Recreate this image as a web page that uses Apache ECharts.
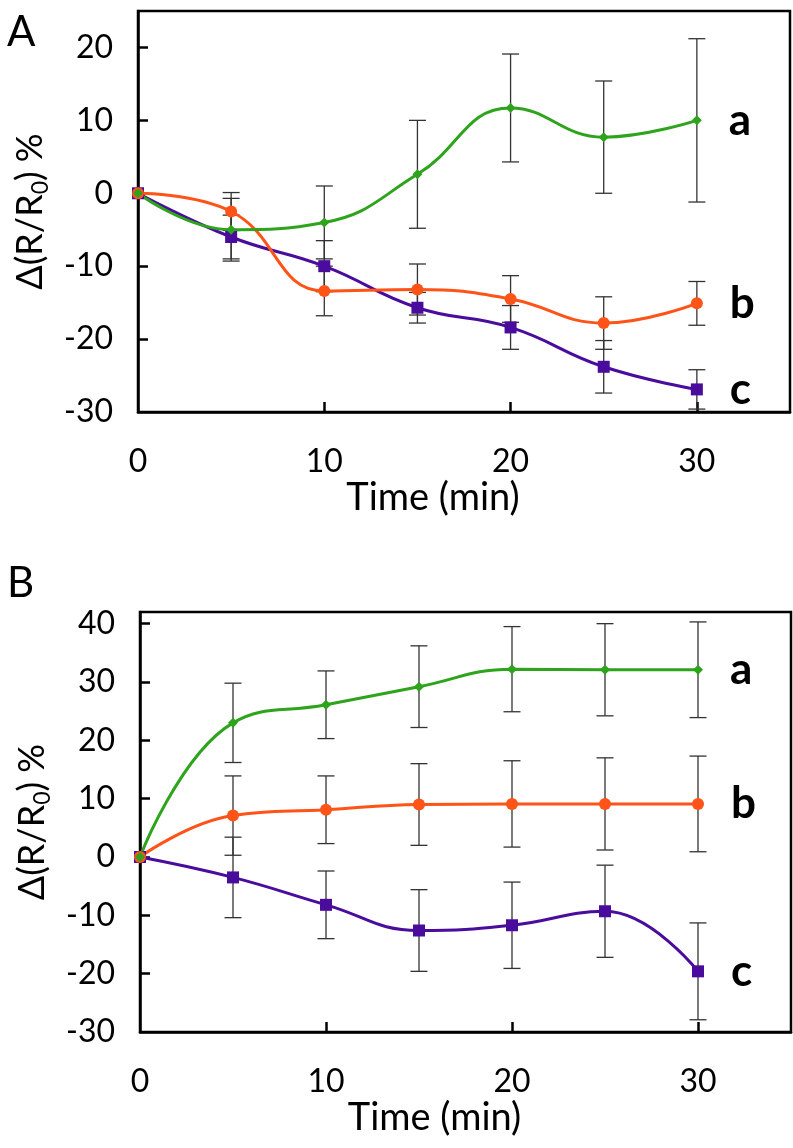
<!DOCTYPE html>
<html><head><meta charset="utf-8">
<script src="https://cdn.jsdelivr.net/npm/echarts@6/dist/echarts.min.js"></script>
<style>html,body{margin:0;padding:0;background:#fff}#c{width:793px;height:1148px}</style>
</head><body><div id="c"></div>
<script>
// ---- data ----
const times = [0, 5, 10, 15, 20, 25, 30];
const seriesNames = ['a', 'b', 'c'];
// Panel A
const A_a = [0, -5.0, -4.0, 2.6, 11.7, 7.7, 10.0];
const A_a_err = [0, 4.3, 5.0, 7.4, 7.4, 7.7, 11.2];
const A_b = [0, -2.5, -13.4, -13.2, -14.5, -17.8, -15.1];
const A_b_err = [0, 2.6, 3.4, 3.5, 3.2, 3.6, 3.0];
const A_c = [0, -6.0, -10.0, -15.7, -18.4, -23.8, -26.9];
const A_c_err = [0, 3.0, 3.5, 2.1, 3.0, 3.6, 2.7];
// Panel B
const B_a = [0, 23.0, 26.1, 29.2, 32.2, 32.1, 32.1];
const B_a_err = [0, 6.8, 5.8, 7.0, 7.3, 7.9, 8.2];
const B_b = [0, 7.1, 8.1, 9.0, 9.1, 9.1, 9.1];
const B_b_err = [0, 6.8, 5.8, 7.0, 7.4, 7.9, 8.2];
const B_c = [0, -3.5, -8.2, -12.6, -11.7, -9.3, -19.6];
const B_c_err = [0, 6.9, 5.8, 7.0, 7.4, 7.9, 8.3];
// ticks
const xTickLabels = [0, 10, 20, 30];
const A_yTickLabels = [-30, -20, -10, 0, 10, 20];
const B_yTickLabels = [-30, -20, -10, 0, 10, 20, 30, 40];

// ---- styling ----
const FONT = 'Lato';
const colors = ['#2ea31c', '#ff5318', '#4a0c9c'];
const symbols = ['diamond', 'circle', 'rect'];
const symSizes = [10, 12, 12];

function lineSeries(vals, idx, panel) {
  const data = times.map((t, i) => {
    const item = { value: [t, vals[i]] };
    if (i === times.length - 1) {
      item.label = {
        show: true, position: 'right', distance: 27,
        formatter: seriesNames[idx], fontFamily: FONT, fontSize: 44,
        fontWeight: 'bold', color: '#000'
      };
    }
    return item;
  });
  return {
    type: 'line', xAxisIndex: panel, yAxisIndex: panel, data,
    smooth: 0.45, symbol: symbols[idx], symbolSize: symSizes[idx],
    showAllSymbol: true, z: 3,
    lineStyle: { color: colors[idx], width: 3 },
    itemStyle: { color: colors[idx] },
    label: { show: false }
  };
}
function errSeries(vals, errs, panel) {
  const data = times.map((t, i) => [t, vals[i] - errs[i], vals[i] + errs[i]])
    .filter((d, i) => errs[i] > 0);
  return {
    type: 'custom', xAxisIndex: panel, yAxisIndex: panel, z: 2,
    encode: { x: 0, y: [1, 2] }, data,
    renderItem: function (params, api) {
      const x = api.value(0), lo = api.value(1), hi = api.value(2);
      const p1 = api.coord([x, hi]), p2 = api.coord([x, lo]);
      const w = 8.5;
      const st = { stroke: '#333', lineWidth: 1.3 };
      return { type: 'group', children: [
        { type: 'line', shape: { x1: p1[0], y1: p1[1], x2: p2[0], y2: p2[1] }, style: st },
        { type: 'line', shape: { x1: p1[0] - w, y1: p1[1], x2: p1[0] + w, y2: p1[1] }, style: st },
        { type: 'line', shape: { x1: p2[0] - w, y1: p2[1], x2: p2[0] + w, y2: p2[1] }, style: st }
      ]};
    }
  };
}
function xAxis(gi) {
  return {
    type: 'value', gridIndex: gi, min: 0, max: 35,
    name: 'Time (min)', nameLocation: 'middle', nameGap: 66,
    nameTextStyle: { fontFamily: FONT, fontSize: 38, color: '#000', padding: [0, 62, 0, 0] },
    axisLine: { show: true, onZero: false, lineStyle: { color: '#000', width: 2.5 } },
    axisTick: { show: true, inside: true, length: 10, customValues: xTickLabels.filter(v => v > 0), lineStyle: { color: '#000', width: 2.5 } },
    axisLabel: { customValues: xTickLabels, fontFamily: FONT, fontSize: 32, color: '#000', margin: 34 },
    splitLine: { show: false }
  };
}
function yAxis(gi, min, max, labels) {
  return {
    type: 'value', gridIndex: gi, min, max,
    name: '{t|Δ(R/R}{s|0}{t|) %}', nameLocation: 'middle', nameGap: 86,
    nameTextStyle: { color: '#000', rich: {
      t: { fontFamily: FONT, fontSize: 36, lineHeight: 44, verticalAlign: 'middle', color: '#000' },
      s: { fontFamily: FONT, fontSize: 23, lineHeight: 44, verticalAlign: 'bottom', color: '#000' } } },
    axisLine: { show: true, onZero: false, lineStyle: { color: '#000', width: 2.5 } },
    axisTick: { show: true, inside: true, length: 10, customValues: labels.filter(v => v > min), lineStyle: { color: '#000', width: 2.5 } },
    axisLabel: { customValues: labels, fontFamily: FONT, fontSize: 32, color: '#000', margin: 25 },
    splitLine: { show: false }
  };
}

const chart = echarts.init(document.getElementById('c'), null, { renderer: 'canvas' });
chart.setOption({
  backgroundColor: '#fff',
  animation: false,
  title: [
    { text: 'A', left: 2, top: 6, textStyle: { fontFamily: FONT, fontSize: 42, fontWeight: 'normal', color: '#000' } },
    { text: 'B', left: 2, top: 557, textStyle: { fontFamily: FONT, fontSize: 42, fontWeight: 'normal', color: '#000' } }
  ],
  grid: [
    { left: 138, right: 3, top: 11, height: 401, show: true, borderColor: '#000', borderWidth: 2.5, containLabel: false },
    { left: 140, right: 2, top: 612, height: 420, show: true, borderColor: '#000', borderWidth: 2.5, containLabel: false }
  ],
  xAxis: [xAxis(0), xAxis(1)],
  yAxis: [yAxis(0, -30, 25, A_yTickLabels), yAxis(1, -30, 42, B_yTickLabels)],
  series: [
    errSeries(A_a, A_a_err, 0), errSeries(A_b, A_b_err, 0), errSeries(A_c, A_c_err, 0),
    lineSeries(A_c, 2, 0), lineSeries(A_b, 1, 0), lineSeries(A_a, 0, 0),
    errSeries(B_a, B_a_err, 1), errSeries(B_b, B_b_err, 1), errSeries(B_c, B_c_err, 1),
    lineSeries(B_c, 2, 1), lineSeries(B_b, 1, 1), lineSeries(B_a, 0, 1)
  ]
});
</script></body></html>
